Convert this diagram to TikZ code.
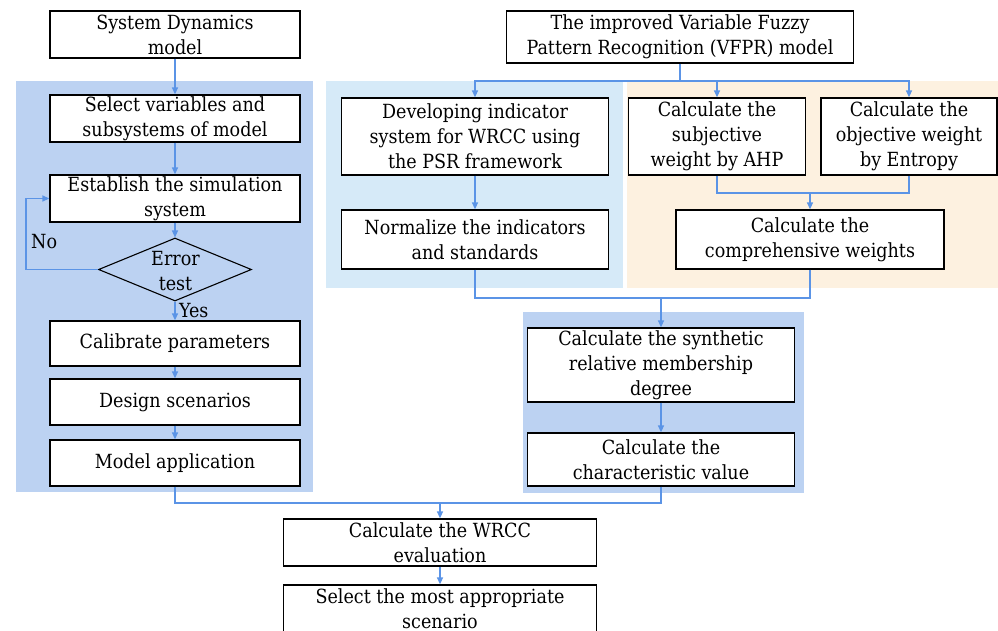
\documentclass[tikz,border=0pt]{standalone}
\usepackage{fontspec}
\setmainfont{DejaVu Serif Condensed}
\usetikzlibrary{arrows.meta,shapes.geometric}
\definecolor{bgblue}{HTML}{BCD2F2}
\definecolor{bglight}{HTML}{D6EAF8}
\definecolor{bgtan}{HTML}{FDF1E0}
\definecolor{lnblue}{HTML}{5B94E6}
\tikzset{
  box/.style={draw=black, line width=1.3pt, fill=white, inner sep=0pt, align=center,
    font=\fontsize{19.5}{25}\selectfont},
  conn/.style={draw=lnblue, line width=1.4pt},
  arr/.style={conn, -{Triangle[length=7pt,width=6pt]}},
  lbl/.style={inner sep=0pt, font=\fontsize{19.5}{25}\selectfont}
}
\begin{document}
\begin{tikzpicture}[x=1pt,y=-1pt]
\useasboundingbox (0,0) rectangle (998,630);
% backgrounds
\fill[bgblue] (16,81) rectangle (313,492);
\fill[bglight] (326,81) rectangle (623,288);
\fill[bgtan] (627,81) rectangle (998,288);
\fill[bgblue] (523,312) rectangle (804,493);
% left column
\node[box, minimum width=250pt, minimum height=47pt] (sd) at (175,34.5) {System Dynamics\\model};
\node[box, minimum width=250pt, minimum height=47pt] (sel) at (175,118.5) {Select variables and\\subsystems of model};
\node[box, minimum width=250pt, minimum height=47pt] (est) at (175,198.5) {Establish the simulation\\system};
\node[draw=black, line width=1.1pt, fill=bgblue, diamond, aspect=2.43, minimum width=153pt, minimum height=63pt, inner sep=0pt] (err) at (175,269.5) {};
\node[lbl, align=center] (errt) at (175.5,271) {Error\\test};
\node[box, minimum width=250pt, minimum height=45pt] (cal) at (175,343.5) {Calibrate parameters};
\node[box, minimum width=250pt, minimum height=46pt] (des) at (175,402) {Design scenarios};
\node[box, minimum width=250pt, minimum height=46pt] (app) at (175,463) {Model application};
\node[lbl, anchor=west] (no) at (31,242) {No};
\node[lbl, anchor=west] (yes) at (179,311) {Yes};
% right part
\node[box, minimum width=347pt, minimum height=52pt] (vfpr) at (680,37) {The improved Variable Fuzzy\\Pattern Recognition (VFPR) model};
\node[box, minimum width=267pt, minimum height=77pt] (dev) at (475,136.5) {Developing indicator\\system for WRCC using\\the PSR framework};
\node[box, minimum width=177pt, minimum height=77pt] (subj) at (717,136.5) {Calculate the\\subjective\\weight by AHP};
\node[box, minimum width=176pt, minimum height=77pt] (obj) at (909,136.5) {Calculate the\\objective weight\\by Entropy};
\node[box, minimum width=267pt, minimum height=59pt] (norm) at (475,239.5) {Normalize the indicators\\and standards};
\node[box, minimum width=268pt, minimum height=59pt] (comp) at (810,239.5) {Calculate the\\comprehensive weights};
\node[box, minimum width=267pt, minimum height=74pt] (syn) at (661,365) {Calculate the synthetic\\relative membership\\degree};
\node[box, minimum width=267pt, minimum height=53pt] (char) at (661,459.5) {Calculate the\\characteristic value};
\node[box, minimum width=313pt, minimum height=47pt] (wrcc) at (440,542.5) {Calculate the WRCC\\evaluation};
\node[box, minimum width=313pt, minimum height=47pt] (best) at (440,608.5) {Select the most appropriate\\scenario};
% junctions
\coordinate (j0) at (680,81);
\coordinate (j1) at (810,193);
\coordinate (j3) at (661,298);
\coordinate (j2) at (440,503);
% connectors left
\draw[arr] (sd.south) -- (sel.north);
\draw[arr] (sel.south) -- (est.north);
\draw[arr] (est.south) -- (err.north);
\draw[arr] (err.west) -- ++(-72,0) |- (est.west);
\draw[arr] (err.south) -- (cal.north);
\draw[arr] (cal.south) -- (des.north);
\draw[arr] (des.south) -- (app.north);
\draw[conn] (app.south) |- (j2);
\draw[conn] (char.south) |- (j2);
\draw[arr] (j2) -- (wrcc.north);
\draw[arr] (wrcc.south) -- (best.north);
% connectors right
\draw[conn] (vfpr.south) -- (j0);
\draw[arr] (j0) -| (dev.north);
\draw[arr] (j0) -| (subj.north);
\draw[arr] (j0) -| (obj.north);
\draw[arr] (dev.south) -- (norm.north);
\draw[conn] (subj.south) |- (j1);
\draw[conn] (obj.south) |- (j1);
\draw[arr] (j1) -- (comp.north);
\draw[conn] (norm.south) |- (j3);
\draw[conn] (comp.south) |- (j3);
\draw[arr] (j3) -- (syn.north);
\draw[arr] (syn.south) -- (char.north);
\end{tikzpicture}
\end{document}
